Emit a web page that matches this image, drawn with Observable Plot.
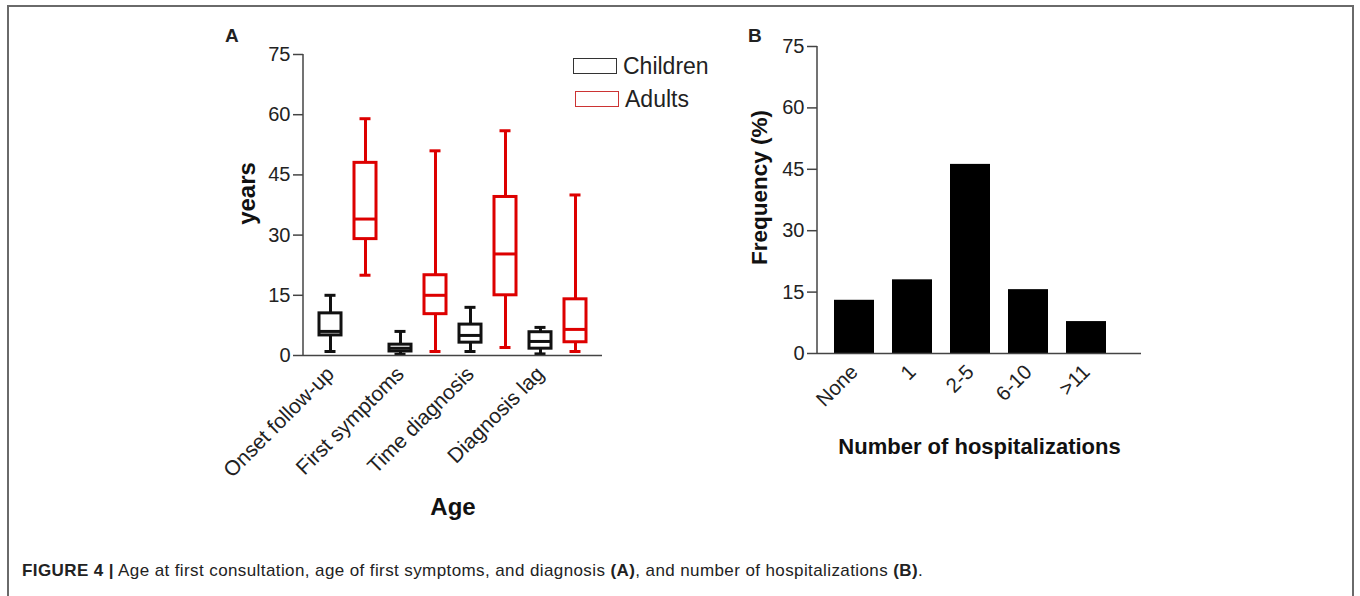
<!DOCTYPE html>
<html>
<head>
<meta charset="utf-8">
<script src="https://cdn.jsdelivr.net/npm/d3@7"></script>
<script src="https://cdn.jsdelivr.net/npm/@observablehq/plot@0.6"></script>
<style>
  html, body { margin: 0; padding: 0; background: #fff; }
  #fig { position: relative; width: 1360px; height: 596px; overflow: hidden; font-family: "Liberation Sans", Arial, sans-serif; color: #222; }
  #frame { position: absolute; left: 7px; top: 5px; width: 1347px; height: 640px; border: 2px solid #6a6a6a; box-sizing: border-box; }
  .plot { position: absolute; top: 0; }
  .letter { position: absolute; font-weight: bold; font-size: 19px; line-height: 1; }
  .lgbox { position: absolute; width: 44px; height: 16px; box-sizing: border-box; }
  .lgtext { position: absolute; font-size: 23px; line-height: 1; }
  #caption { position: absolute; left: 22px; top: 561px; font-size: 17px; letter-spacing: 0.4px; white-space: nowrap; color: #222; }
</style>
</head>
<body>
<div id="fig">
  <div id="frame"></div>
  <div class="letter" style="left:225px; top:26px;">A</div>
  <div class="letter" style="left:748px; top:26px;">B</div>
  <div class="lgbox" style="left:573px; top:58px; border:1.5px solid #333;"></div>
  <div class="lgtext" style="left:623px; top:55px;">Children</div>
  <div class="lgbox" style="left:575px; top:91px; border:1.5px solid #cc3333;"></div>
  <div class="lgtext" style="left:625px; top:88px;">Adults</div>
  <div id="caption"><b>FIGURE 4 |</b> Age at first consultation, age of first symptoms, and diagnosis <b>(A)</b>, and number of hospitalizations <b>(B)</b>.</div>
</div>
<script>
// ---------- Data: panel A (box plots, years) ----------
const categoriesA = ["Onset follow-up", "First symptoms", "Time diagnosis", "Diagnosis lag"];
const groupsA = ["Children", "Adults"];
const childrenMin    = [1,    0.3, 1,   0.4];
const childrenQ1     = [5,    1,   3.2, 1.7];
const childrenMedian = [6,    1.8, 5,   3.5];
const childrenQ3     = [10.5, 2.7, 7.7, 5.8];
const childrenMax    = [15,   6,   12,  7];
const adultsMin      = [20,   1,   2,   1];
const adultsQ1       = [29,   10.3, 15, 3.3];
const adultsMedian   = [34,   15,  25.3, 6.5];
const adultsQ3       = [48,   20,  39.5, 14];
const adultsMax      = [59,   51,  56,  40];
const yTicksA = [0, 15, 30, 45, 60, 75];

// ---------- Data: panel B (bars, %) ----------
const categoriesB = ["None", "1", "2-5", "6-10", ">11"];
const frequencyB = [13, 18, 46.2, 15.6, 7.8];
const yTicksB = [0, 15, 30, 45, 60, 75];

const BLACK = "#111";
const RED = "#dd0000";
const FONT = "'Liberation Sans', Arial, sans-serif";

const rowsA = categoriesA.flatMap((c, i) => [
  {key: c + "|Children", cat: c, group: "Children", min: childrenMin[i], q1: childrenQ1[i], median: childrenMedian[i], q3: childrenQ3[i], max: childrenMax[i]},
  {key: c + "|Adults", cat: c, group: "Adults", min: adultsMin[i], q1: adultsQ1[i], median: adultsMedian[i], q3: adultsQ3[i], max: adultsMax[i]}
]);
const keysA = rowsA.map(d => d.key);
const childKeys = rowsA.filter(d => d.group === "Children").map(d => d.key);

function boxMarks(data, color) {
  return [
    Plot.ruleX(data, {x: "key", y1: "min", y2: "q1", stroke: color, strokeWidth: 3}),
    Plot.ruleX(data, {x: "key", y1: "q3", y2: "max", stroke: color, strokeWidth: 3}),
    Plot.barY(data, {x: "key", y1: "q1", y2: "q3", fill: "white", stroke: color, strokeWidth: 3}),
    Plot.tickY(data, {x: "key", y: "median", stroke: color, strokeWidth: 3}),
    Plot.tickY(data, {x: "key", y: "min", stroke: color, strokeWidth: 3, insetLeft: 5.5, insetRight: 5.5}),
    Plot.tickY(data, {x: "key", y: "max", stroke: color, strokeWidth: 3, insetLeft: 5.5, insetRight: 5.5})
  ];
}

const plotA = Plot.plot({
  width: 620, height: 596,
  marginLeft: 303, marginRight: 18, marginTop: 54, marginBottom: 241,
  style: {fontFamily: FONT, fontSize: "20px", color: "#222", background: "transparent", overflow: "visible"},
  x: {type: "band", domain: keysA, paddingInner: 0.36, paddingOuter: 0.35, align: 0.5},
  y: {domain: [0, 75]},
  marks: [
    ...boxMarks(rowsA.filter(d => d.group === "Children"), BLACK),
    ...boxMarks(rowsA.filter(d => d.group === "Adults"), RED),
    Plot.ruleY([0], {stroke: "#444", strokeWidth: 1.5}),
    Plot.axisY({ticks: yTicksA, tickSize: 10, tickPadding: 3, fontSize: 20, label: null, stroke: "#444", strokeWidth: 1.5}),
    Plot.axisX({ticks: childKeys, tickFormat: k => k.split("|")[0], tickRotate: -45, tickSize: 0, tickPadding: 15, fontSize: 21, label: null}),
    Plot.text(["years"], {frameAnchor: "left", dx: -56, dy: -11.5, rotate: -90, fontSize: 24, fontWeight: "bold", fill: "#111", lineAnchor: "middle", textAnchor: "middle"}),
    Plot.text(["Age"], {frameAnchor: "bottom", dy: 152, fontSize: 24, fontWeight: "bold", fill: "#111", lineAnchor: "middle", textAnchor: "middle"})
  ]
});

const rowsB = categoriesB.map((c, i) => ({cat: c, value: frequencyB[i]}));
const plotB = Plot.plot({
  width: 680, height: 596,
  marginLeft: 137, marginRight: 219, marginTop: 46, marginBottom: 243,
  style: {fontFamily: FONT, fontSize: "20px", color: "#222", background: "transparent", overflow: "visible"},
  x: {type: "band", domain: categoriesB, paddingInner: 0.313, paddingOuter: 0.44, align: 0.33},
  y: {domain: [0, 75]},
  marks: [
    Plot.barY(rowsB, {x: "cat", y: "value", fill: "#000"}),
    Plot.ruleY([0], {stroke: "#444", strokeWidth: 1.5}),
    Plot.axisY({ticks: yTicksB, tickSize: 10, tickPadding: 3, fontSize: 20, label: null, stroke: "#444", strokeWidth: 1.5}),
    Plot.axisX({tickRotate: -45, tickSize: 0, tickPadding: 15, fontSize: 20.5, label: null}),
    Plot.text(["Frequency (%)"], {frameAnchor: "left", dx: -57.5, dy: -12.5, rotate: -90, fontSize: 22.5, fontWeight: "bold", fill: "#111", lineAnchor: "middle", textAnchor: "middle"}),
    Plot.text(["Number of hospitalizations"], {frameAnchor: "bottom", dy: 93.5, fontSize: 22, fontWeight: "bold", fill: "#111", lineAnchor: "middle", textAnchor: "middle"})
  ]
});

// vertical axis lines, drawn from each plot's own scales
function addYAxisLine(plot) {
  const sx = plot.scale("x"), sy = plot.scale("y");
  const x0 = Math.min(...sx.range);
  d3.select(plot).append("line")
    .attr("x1", x0).attr("x2", x0)
    .attr("y1", sy.apply(sy.domain[0])).attr("y2", sy.apply(sy.domain[1]))
    .attr("stroke", "#444").attr("stroke-width", 1.5);
}
addYAxisLine(plotA);
addYAxisLine(plotB);

plotA.classList.add("plot"); plotA.style.left = "0px";
plotB.classList.add("plot"); plotB.style.left = "680px";
const fig = document.getElementById("fig");
fig.appendChild(plotA);
fig.appendChild(plotB);
</script>
</body>
</html>
